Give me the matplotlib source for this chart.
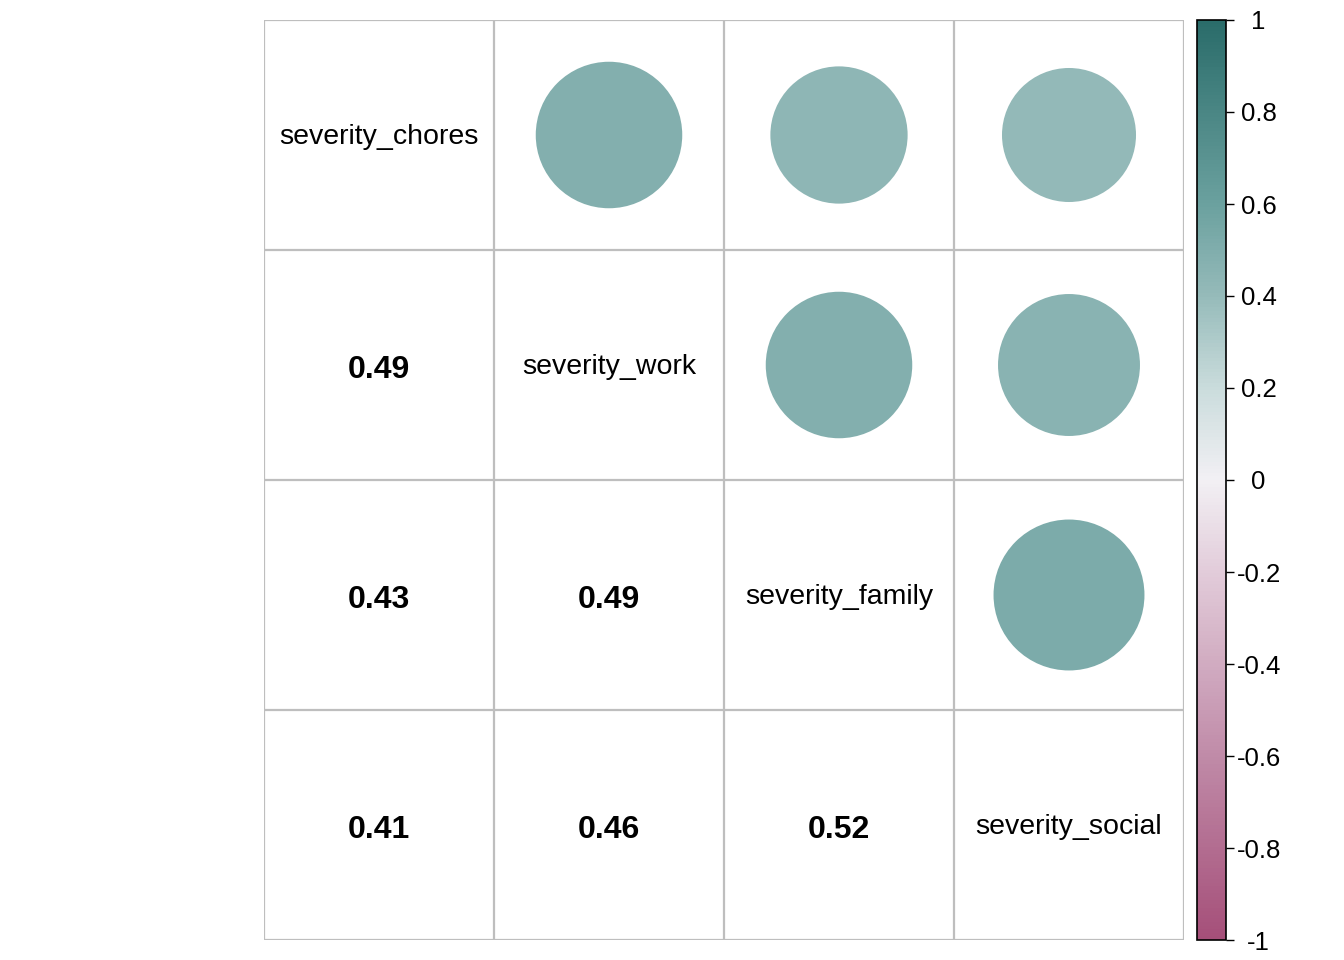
import matplotlib
matplotlib.use("Agg")
import matplotlib.pyplot as plt
import numpy as np
from matplotlib.colors import LinearSegmentedColormap, Normalize
from matplotlib.patches import Circle
from matplotlib.cm import ScalarMappable

plt.rcParams['font.family'] = ['Liberation Sans', 'DejaVu Sans']

# --- data ---
variables = ["severity_chores", "severity_work", "severity_family", "severity_social"]
corr = np.array([
    [1.00, 0.49, 0.43, 0.41],
    [0.49, 1.00, 0.49, 0.46],
    [0.43, 0.49, 1.00, 0.52],
    [0.41, 0.46, 0.52, 1.00],
])
cbar_ticks = [-1, -0.8, -0.6, -0.4, -0.2, 0, 0.2, 0.4, 0.6, 0.8, 1]
cbar_labels = ["-1", "-0.8", "-0.6", "-0.4", "-0.2", "0", "0.2", "0.4", "0.6", "0.8", "1"]

# diverging palette, magenta -> white -> teal
stops = [(0.0, "#A54F79"), (0.2, "#C08BA8"), (0.4, "#E2CCDA"), (0.5, "#F2F0F4"),
         (0.6, "#CADCDC"), (0.7, "#96BBBA"), (0.8, "#6BA19F"), (1.0, "#2A6C6A")]
cmap = LinearSegmentedColormap.from_list("corr", stops)
norm = Normalize(vmin=-1, vmax=1)

fig = plt.figure(figsize=(13.44, 9.6), dpi=100)
ax = fig.add_axes([264 / 1344, 20 / 960, 920 / 1344, 920 / 960])
n = len(variables)
ax.set_xlim(0, n)
ax.set_ylim(n, 0)
ax.set_axis_off()

grid_col = "#BEBEBE"
for k in range(n + 1):
    ax.plot([k, k], [0, n], color=grid_col, lw=1.6, solid_capstyle="projecting", zorder=1)
    ax.plot([0, n], [k, k], color=grid_col, lw=1.6, solid_capstyle="projecting", zorder=1)

for i in range(n):
    for j in range(n):
        cx, cy = j + 0.5, i + 0.5
        r = corr[i, j]
        if i == j:
            ax.text(cx, cy + 0.008, variables[i], ha="center", va="center", fontsize=20.5)
        elif j > i:
            rad = 0.5 * 0.91 * np.sqrt(abs(r))
            ax.add_patch(Circle((cx, cy), rad, facecolor=cmap(norm(r)),
                                edgecolor="none", zorder=2))
        else:
            ax.text(cx, cy + 0.02, f"{r:.2f}", ha="center", va="center",
                    fontsize=23, fontweight="bold")

# --- colour bar ---
cax = fig.add_axes([1197 / 1344, 20 / 960, 29 / 1344, 920 / 960])
sm = ScalarMappable(norm=norm, cmap=cmap)
cb = fig.colorbar(sm, cax=cax, ticks=cbar_ticks)
cb.ax.set_yticklabels(cbar_labels)
cb.ax.tick_params(labelsize=18.5, length=6, width=1, colors="black", pad=17.5)
for lab in cb.ax.get_yticklabels():
    lab.set_horizontalalignment("center")
cb.outline.set_linewidth(1.2)
cb.outline.set_edgecolor("black")

fig.savefig("out.png", dpi=100)
